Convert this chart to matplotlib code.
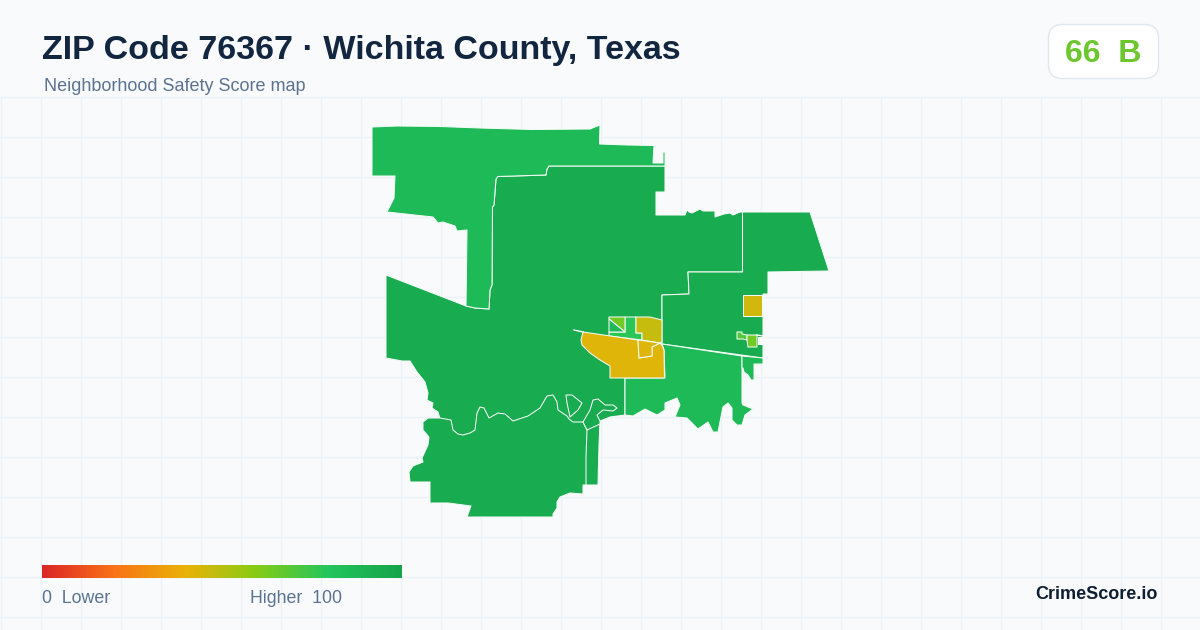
import numpy as np
import matplotlib
matplotlib.use("Agg")
import matplotlib.pyplot as plt
from matplotlib.colors import LinearSegmentedColormap
from matplotlib.patches import FancyBboxPatch, Polygon

plt.rcParams['font.family'] = ['Liberation Sans', 'DejaVu Sans']

TITLE = "ZIP Code 76367 · Wichita County, Texas"
SUBTITLE = "Neighborhood Safety Score map"
SCORE_TEXT = "66  B"
BRAND = "CrimeScore.io"
LOW_LABEL = "0  Lower"
HIGH_LABEL = "Higher  100"

SCALE_STOPS = [0, 0.2, 0.4, 0.6, 0.8, 1]
SCALE_COLORS = ['#dc2626', '#f97316', '#eab308', '#84cc16', '#22c55e', '#16a34a']

NW = [(372,127),(397,126),(440,126.5),(480,128),(532,129.5),(590,129),(600,125),(599.5,144),(627,145),(654,145.5),(653,163),(660,163),(663,163),(663,152),(665,152),(665,166),(608,166),(549,166),(547,169),(546,175),(498,176.5),(496,179),(494,205),(492.5,207),(492,285),(490,290),(489,309),(475,308),(466,306),(467,230),(457,231),(455,226),(443,222),(438,223),(433,217),(387,212),(394,198),(395,176),(372,176)]
MAIN = [(386,275),(466,306),(475,308),(489,309),(490,290),(492,285),(492.5,207),(494,205),(496,179),(498,176.5),(546,175),(547,169),(549,166),(608,166),(665,166),(665,192),(656,192),(656,215),(685,215),(687,210),(689,212),(692,213),(700,209),(703,211),(715,211),(715,217),(724,214),(730,213),(733,215),(740,212),(742.5,212),(742.5,272),(688,272),(689,294),(662,295),(662,345),(664,350),(665,378),(625,378),(625,415),(610,417),(600,421),(599,445),(598,485),(586,485),(560,450),(470,450),(440,419),(438,412),(432,408),(433,403),(427,400),(428,393),(425,382),(417,372),(410,361),(402,361),(386,358)]
NE = [(662,295),(689,294),(688,272),(742.5,272),(742.5,212),(810,212),(829,271),(768,272),(768,294),(763,294),(763,358),(662,344)]
SOUTH = [(423,422),(428,418),(440,418),(451,420),(453,430),(458,434),(463,435),(470,433),(475,430),(477,413),(480,407),(484,408),(489,418),(498,413),(505,414),(513,421),(528,416),(540,408),(547,396),(553,395),(557,402),(558,410),(567,416),(569,419),(573,422),(583,422),(587,430),(586,457),(586,485),(583,485),(583,494),(570,493),(560,497),(557,502),(557,508),(553,514),(553,517),(467,517),(471,506),(448,503),(430,503),(430,482),(410,482),(409,472),(413,466),(423,462),(422,458),(428,445),(429,437),(423,430)]
ISLAND_A = [(566,395),(572,395),(582,403),(578,410),(570,417),(567,403)]
ISLAND_B = [(583,422),(590,410),(593,400),(598,399),(605,405),(613,405),(617,408),(613,411),(603,410),(597,415),(600,421),(600,424),(587,430)]
SE = [(662,344),(742,356),(742,403),(743,405),(753,409),(745,415),(742,425),(737,425),(732,420),(732,408),(728,403),(723,407),(718,432),(713,432),(708,422),(698,429),(687,418),(675,417),(680,405),(677,398),(665,403),(665,410),(657,415),(645,409),(633,416),(625,415),(625,378),(665,378),(664,350)]
SE_EDGE = [(742,356),(763,358),(763,364),(754,364),(754,375),(763,375),(763,376),(754,376),(754,380),(751,380),(748,375),(744,372),(743,368),(742,368)]
YELLOW = [(583,332),(638,340),(639,358),(652,356),(652,347),(660,343),(662,345),(664,350),(664.5,378),(610,378),(610,366),(600,360),(590,353),(582,345),(581,340)]
YELLOW_INNER = [(638,340),(660,343),(652,347),(652,356),(639,358)]
OLIVE = [(636,317),(650,317),(662,320),(662,342),(660,343),(642,340),(642,333),(636,333)]
CENTER_GREEN = [(609,332),(625,332),(625,317),(636,317),(636,333),(642,333),(642,340),(609,336)]
CENTER_LIME = [(609,317),(625,317),(625,332),(609,319)]
CENTER_MID = [(609,319),(625,332),(609,332)]
SQUARE = [(743,295),(762,295),(762,316),(743,316)]
EAST_LEFT = [(737,332),(742,332),(742,334),(747,335),(747,340),(743,339),(737,339)]
EAST_RIGHT = [(747,335),(757,335),(757,347),(748,347),(747,340)]
EAST_GAP = [(758,337),(763,337),(763,345),(758,345)]
STRAY_LINE = [(574,330),(583,332)]
EAST_LINE = [(757,335),(763,336)]

AREAS = [
    (MAIN, 95), (NE, 95), (NW, 86), (SE, 86), (SE_EDGE, 86), (SOUTH, 95),
    (ISLAND_A, 95), (ISLAND_B, 95), (CENTER_GREEN, 78), (CENTER_LIME, 64),
    (CENTER_MID, 86), (OLIVE, 47), (YELLOW, 42), (YELLOW_INNER, 42),
    (SQUARE, 45), (EAST_LEFT, 70), (EAST_RIGHT, 64),
]

GRID_X = list(range(0, 1201, 40))
GRID_Y = list(range(97, 630, 40))

BG = '#f8fafc'
GRID = '#ecf2f5'
cmap = LinearSegmentedColormap.from_list('score', list(zip(SCALE_STOPS, SCALE_COLORS)))

fig = plt.figure(figsize=(12, 6.3), dpi=100, facecolor=BG)
ax = fig.add_axes([0, 0, 1, 1])
ax.set_axis_off()

for x in GRID_X:
    ax.plot([x + 0.5, x + 0.5], [97, 630], color=GRID, lw=1, zorder=1)
for y in GRID_Y:
    ax.plot([0, 1200], [y, y], color=GRID, lw=1, zorder=1)

for pts, score in AREAS:
    ax.add_patch(Polygon(pts, closed=True, facecolor=cmap(score / 100), edgecolor='#f4fbf6',
                         lw=0.75, joinstyle='round', zorder=3))
ax.add_patch(Polygon(EAST_GAP, closed=True, facecolor=BG, edgecolor='none', zorder=4))
for line in (STRAY_LINE, EAST_LINE):
    xs, ys = zip(*line)
    ax.plot(xs, ys, color='white', lw=1, zorder=4)

# legend gradient
grad = np.linspace(0, 1, 360).reshape(1, -1)
ax.imshow(grad, cmap=cmap, extent=(42, 402, 578, 565), aspect='auto', zorder=5, interpolation='bilinear')

# badge
ax.add_patch(FancyBboxPatch((1048.5 + 14, 24.5 + 14), 110 - 28, 54 - 28,
                            boxstyle='round,pad=14,rounding_size=14',
                            facecolor='white', edgecolor='#e0e7ef', lw=1, zorder=5))

ax.text(41.5, 51, TITLE, fontsize=24.5, fontweight='bold', color='#12263f', va='center', ha='left', zorder=6)
ax.text(44, 86.5, SUBTITLE, fontsize=12.95, color='#5b7390', va='center', ha='left', zorder=6)
ax.text(1103, 53.5, SCORE_TEXT, fontsize=23.1, fontweight='bold', color='#6cc72f', va='center', ha='center', zorder=6)
ax.text(42, 598.5, LOW_LABEL, fontsize=12.8, color='#5b7390', va='center', ha='left', zorder=6)
ax.text(342, 598.5, HIGH_LABEL, fontsize=12.8, color='#5b7390', va='center', ha='right', zorder=6)
ax.text(1158, 594.5, BRAND, fontsize=13, fontweight='bold', color='#0f1f33', va='center', ha='right', zorder=6)

ax.set_xlim(0, 1200)
ax.set_ylim(630, 0)
fig.savefig('out.png', dpi=100, facecolor=BG)
